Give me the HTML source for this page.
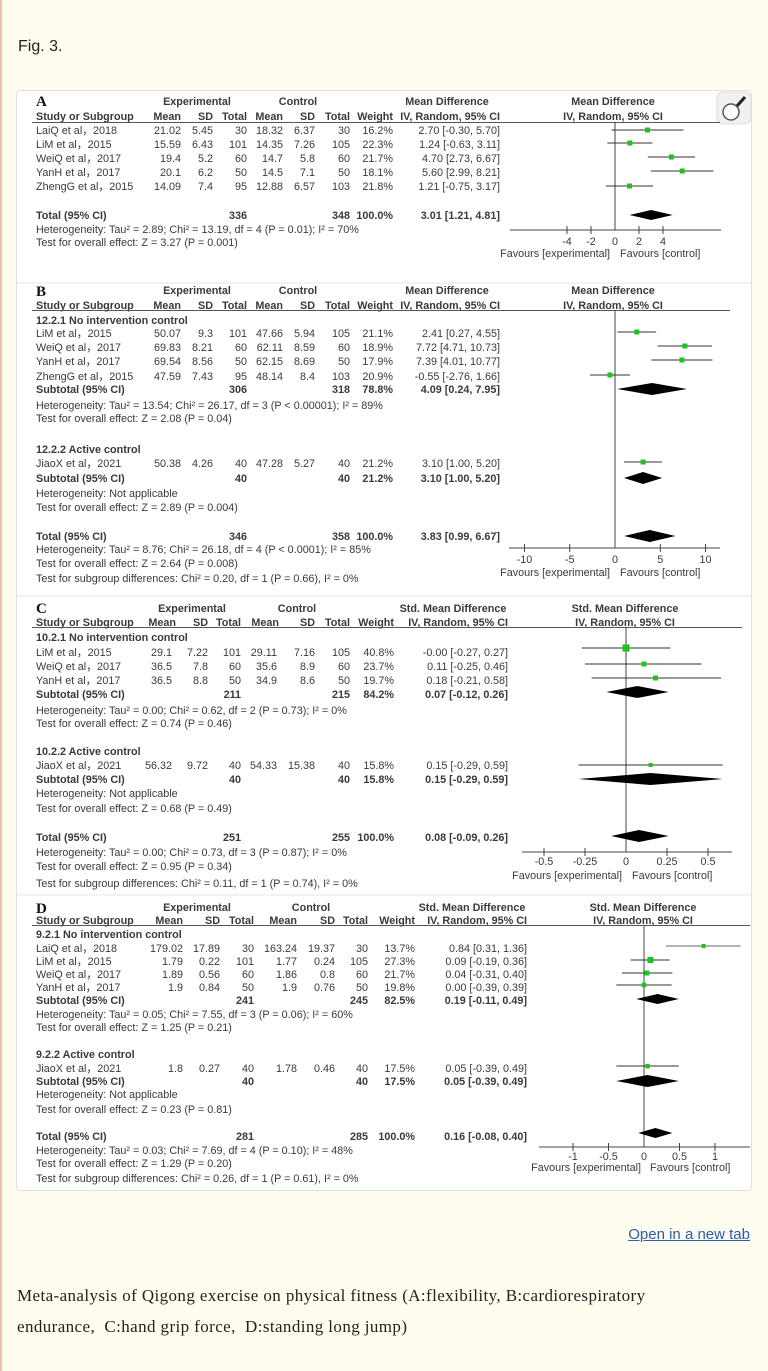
<!DOCTYPE html>
<html><head><meta charset="utf-8"><style>
body{margin:0;background:#fffdf0;width:768px;height:1371px;overflow:hidden;position:relative;font-family:"Liberation Sans",sans-serif}
.strip{position:absolute;left:0;top:0;width:2px;height:1371px;background:#efc1a8}
.fig{position:absolute;left:18px;top:38px;font-size:16px;color:#222}
.open{position:absolute;right:18px;top:1226px;font-size:15px;color:#2a5db0;text-decoration:underline}
.cap{position:absolute;left:17px;top:1280px;width:740px;white-space:nowrap;font-family:"Liberation Serif",serif;font-size:17px;letter-spacing:0.4px;line-height:31px;color:#222}
svg{position:absolute;left:0;top:0}
text{font-family:"Liberation Sans",sans-serif;font-size:10.8px;fill:#3a3a3a}
.b{font-weight:bold}
.e{text-anchor:end}
.m{text-anchor:middle}
.L{font-family:"Liberation Serif",serif;font-size:15px;font-weight:bold;fill:#111}
.sq{fill:#1ec31e}
.ci{stroke:#333;stroke-width:1}
.ax{stroke:#444;stroke-width:1;fill:none}
</style></head><body>
<div class="strip"></div>
<div class="fig">Fig. 3.</div>
<svg width="768" height="1371" xmlns="http://www.w3.org/2000/svg">
<rect x="16.5" y="90.5" width="735" height="1100" rx="4" fill="#fff" stroke="#e2e0d8"/>
<line x1="17" y1="283" x2="751" y2="283" stroke="#e6e6e6"/>
<line x1="17" y1="596" x2="751" y2="596" stroke="#e6e6e6"/>
<line x1="17" y1="895" x2="751" y2="895" stroke="#e6e6e6"/>
<rect x="717" y="92" width="34" height="32" rx="6" fill="#f1f1f1" stroke="#ddd"/>
<circle cx="731" cy="112" r="8" fill="#fff" stroke="#555" stroke-width="1.5"/>
<line x1="737" y1="106" x2="745" y2="97" stroke="#222" stroke-width="3"/>

<!-- ===== A ===== -->
<text x="36" y="106" class="L">A</text>
<text x="197" y="105" class="b m">Experimental</text>
<text x="298" y="105" class="b m">Control</text>
<text x="447" y="105" class="b m">Mean Difference</text>
<text x="613" y="105" class="b m">Mean Difference</text>
<g class="b"><text x="36" y="120">Study or Subgroup</text><text x="181" y="120" class="e">Mean</text><text x="213" y="120" class="e">SD</text><text x="247" y="120" class="e">Total</text><text x="283" y="120" class="e">Mean</text><text x="315" y="120" class="e">SD</text><text x="350" y="120" class="e">Total</text><text x="393" y="120" class="e">Weight</text><text x="500" y="120" class="e">IV, Random, 95% CI</text><text x="613" y="120" class="m">IV, Random, 95% CI</text></g>
<line x1="32" y1="122.5" x2="720" y2="122.5" stroke="#555"/>
<g>
<text x="36" y="134">LaiQ et al，2018</text><text x="181" y="134" class="e">21.02</text><text x="213" y="134" class="e">5.45</text><text x="247" y="134" class="e">30</text><text x="283" y="134" class="e">18.32</text><text x="315" y="134" class="e">6.37</text><text x="350" y="134" class="e">30</text><text x="393" y="134" class="e">16.2%</text><text x="500" y="134" class="e">2.70 [-0.30, 5.70]</text>
<text x="36" y="148">LiM et al，2015</text><text x="181" y="148" class="e">15.59</text><text x="213" y="148" class="e">6.43</text><text x="247" y="148" class="e">101</text><text x="283" y="148" class="e">14.35</text><text x="315" y="148" class="e">7.26</text><text x="350" y="148" class="e">105</text><text x="393" y="148" class="e">22.3%</text><text x="500" y="148" class="e">1.24 [-0.63, 3.11]</text>
<text x="36" y="162">WeiQ et al，2017</text><text x="181" y="162" class="e">19.4</text><text x="213" y="162" class="e">5.2</text><text x="247" y="162" class="e">60</text><text x="283" y="162" class="e">14.7</text><text x="315" y="162" class="e">5.8</text><text x="350" y="162" class="e">60</text><text x="393" y="162" class="e">21.7%</text><text x="500" y="162" class="e">4.70 [2.73, 6.67]</text>
<text x="36" y="176">YanH et al，2017</text><text x="181" y="176" class="e">20.1</text><text x="213" y="176" class="e">6.2</text><text x="247" y="176" class="e">50</text><text x="283" y="176" class="e">14.5</text><text x="315" y="176" class="e">7.1</text><text x="350" y="176" class="e">50</text><text x="393" y="176" class="e">18.1%</text><text x="500" y="176" class="e">5.60 [2.99, 8.21]</text>
<text x="36" y="190">ZhengG et al，2015</text><text x="181" y="190" class="e">14.09</text><text x="213" y="190" class="e">7.4</text><text x="247" y="190" class="e">95</text><text x="283" y="190" class="e">12.88</text><text x="315" y="190" class="e">6.57</text><text x="350" y="190" class="e">103</text><text x="393" y="190" class="e">21.8%</text><text x="500" y="190" class="e">1.21 [-0.75, 3.17]</text>
</g>
<g class="b"><text x="36" y="219">Total (95% CI)</text><text x="247" y="219" class="e">336</text><text x="350" y="219" class="e">348</text><text x="393" y="219" class="e">100.0%</text><text x="500" y="219" class="e">3.01 [1.21, 4.81]</text></g>
<text x="36" y="233">Heterogeneity: Tau² = 2.89; Chi² = 13.19, df = 4 (P = 0.01); I² = 70%</text>
<text x="36" y="246">Test for overall effect: Z = 3.27 (P = 0.001)</text>
<line x1="615" y1="122" x2="615" y2="230" class="ax"/>
<line x1="510" y1="230" x2="721" y2="230" class="ax"/>
<g class="ax"><line x1="567" y1="226" x2="567" y2="234"/><line x1="591" y1="226" x2="591" y2="234"/><line x1="639" y1="226" x2="639" y2="234"/><line x1="663" y1="226" x2="663" y2="234"/></g>
<text x="567" y="245" class="m">-4</text><text x="591" y="245" class="m">-2</text><text x="615" y="245" class="m">0</text><text x="639" y="245" class="m">2</text><text x="663" y="245" class="m">4</text>
<text x="610" y="257" class="e">Favours [experimental]</text><text x="620" y="257">Favours [control]</text>
<g class="ci"><line x1="611.4" y1="130" x2="683.4" y2="130"/><line x1="607.4" y1="143" x2="652.3" y2="143"/><line x1="647.8" y1="157" x2="695" y2="157"/><line x1="650.9" y1="171" x2="713.5" y2="171"/><line x1="606" y1="186" x2="653" y2="186"/></g>
<rect x="645" y="127.5" width="5" height="5" class="sq"/><rect x="627.4" y="140.5" width="5" height="5" class="sq"/><rect x="668.9" y="154.5" width="5" height="5" class="sq"/><rect x="679.7" y="168.5" width="5" height="5" class="sq"/><rect x="627" y="183.5" width="5" height="5" class="sq"/>
<polygon points="629.5,215 651.1,210 672.7,215 651.1,220" fill="#000"/>

<!-- ===== B ===== -->
<text x="36" y="296" class="L">B</text>
<text x="197" y="294" class="b m">Experimental</text>
<text x="298" y="294" class="b m">Control</text>
<text x="447" y="294" class="b m">Mean Difference</text>
<text x="613" y="294" class="b m">Mean Difference</text>
<g class="b"><text x="36" y="309">Study or Subgroup</text><text x="181" y="309" class="e">Mean</text><text x="213" y="309" class="e">SD</text><text x="247" y="309" class="e">Total</text><text x="283" y="309" class="e">Mean</text><text x="315" y="309" class="e">SD</text><text x="350" y="309" class="e">Total</text><text x="393" y="309" class="e">Weight</text><text x="500" y="309" class="e">IV, Random, 95% CI</text><text x="613" y="309" class="m">IV, Random, 95% CI</text></g>
<line x1="32" y1="310.5" x2="730" y2="310.5" stroke="#555"/>
<text x="36" y="324" class="b">12.2.1 No intervention control</text>
<text x="36" y="337">LiM et al，2015</text><text x="181" y="337" class="e">50.07</text><text x="213" y="337" class="e">9.3</text><text x="247" y="337" class="e">101</text><text x="283" y="337" class="e">47.66</text><text x="315" y="337" class="e">5.94</text><text x="350" y="337" class="e">105</text><text x="393" y="337" class="e">21.1%</text><text x="500" y="337" class="e">2.41 [0.27, 4.55]</text>
<text x="36" y="351">WeiQ et al，2017</text><text x="181" y="351" class="e">69.83</text><text x="213" y="351" class="e">8.21</text><text x="247" y="351" class="e">60</text><text x="283" y="351" class="e">62.11</text><text x="315" y="351" class="e">8.59</text><text x="350" y="351" class="e">60</text><text x="393" y="351" class="e">18.9%</text><text x="500" y="351" class="e">7.72 [4.71, 10.73]</text>
<text x="36" y="365">YanH et al，2017</text><text x="181" y="365" class="e">69.54</text><text x="213" y="365" class="e">8.56</text><text x="247" y="365" class="e">50</text><text x="283" y="365" class="e">62.15</text><text x="315" y="365" class="e">8.69</text><text x="350" y="365" class="e">50</text><text x="393" y="365" class="e">17.9%</text><text x="500" y="365" class="e">7.39 [4.01, 10.77]</text>
<text x="36" y="380">ZhengG et al，2015</text><text x="181" y="380" class="e">47.59</text><text x="213" y="380" class="e">7.43</text><text x="247" y="380" class="e">95</text><text x="283" y="380" class="e">48.14</text><text x="315" y="380" class="e">8.4</text><text x="350" y="380" class="e">103</text><text x="393" y="380" class="e">20.9%</text><text x="500" y="380" class="e">-0.55 [-2.76, 1.66]</text>
<g class="b"><text x="36" y="393">Subtotal (95% CI)</text><text x="247" y="393" class="e">306</text><text x="350" y="393" class="e">318</text><text x="393" y="393" class="e">78.8%</text><text x="500" y="393" class="e">4.09 [0.24, 7.95]</text></g>
<text x="36" y="409">Heterogeneity: Tau² = 13.54; Chi² = 26.17, df = 3 (P &lt; 0.00001); I² = 89%</text>
<text x="36" y="422">Test for overall effect: Z = 2.08 (P = 0.04)</text>
<text x="36" y="453" class="b">12.2.2 Active control</text>
<text x="36" y="467">JiaoX et al，2021</text><text x="181" y="467" class="e">50.38</text><text x="213" y="467" class="e">4.26</text><text x="247" y="467" class="e">40</text><text x="283" y="467" class="e">47.28</text><text x="315" y="467" class="e">5.27</text><text x="350" y="467" class="e">40</text><text x="393" y="467" class="e">21.2%</text><text x="500" y="467" class="e">3.10 [1.00, 5.20]</text>
<g class="b"><text x="36" y="482">Subtotal (95% CI)</text><text x="247" y="482" class="e">40</text><text x="350" y="482" class="e">40</text><text x="393" y="482" class="e">21.2%</text><text x="500" y="482" class="e">3.10 [1.00, 5.20]</text></g>
<text x="36" y="497">Heterogeneity: Not applicable</text>
<text x="36" y="511">Test for overall effect: Z = 2.89 (P = 0.004)</text>
<g class="b"><text x="36" y="540">Total (95% CI)</text><text x="247" y="540" class="e">346</text><text x="350" y="540" class="e">358</text><text x="393" y="540" class="e">100.0%</text><text x="500" y="540" class="e">3.83 [0.99, 6.67]</text></g>
<text x="36" y="553">Heterogeneity: Tau² = 8.76; Chi² = 26.18, df = 4 (P &lt; 0.0001); I² = 85%</text>
<text x="36" y="567">Test for overall effect: Z = 2.64 (P = 0.008)</text>
<text x="36" y="582">Test for subgroup differences: Chi² = 0.20, df = 1 (P = 0.66), I² = 0%</text>
<line x1="615" y1="310" x2="615" y2="548" class="ax"/>
<line x1="509" y1="548" x2="720" y2="548" class="ax"/>
<g class="ax"><line x1="524.5" y1="544" x2="524.5" y2="552"/><line x1="569.7" y1="544" x2="569.7" y2="552"/><line x1="660.3" y1="544" x2="660.3" y2="552"/><line x1="705.5" y1="544" x2="705.5" y2="552"/></g>
<text x="524.5" y="563" class="m">-10</text><text x="569.7" y="563" class="m">-5</text><text x="615" y="563" class="m">0</text><text x="660.3" y="563" class="m">5</text><text x="705.5" y="563" class="m">10</text>
<text x="610" y="576" class="e">Favours [experimental]</text><text x="620" y="576">Favours [control]</text>
<g class="ci"><line x1="617.4" y1="332" x2="656.2" y2="332"/><line x1="657.6" y1="346" x2="712.1" y2="346"/><line x1="651.3" y1="360" x2="712.5" y2="360"/><line x1="590" y1="375" x2="630" y2="375"/><line x1="624" y1="462" x2="662.1" y2="462"/></g>
<rect x="634.3" y="329.5" width="5" height="5" class="sq"/><rect x="682.4" y="343.5" width="5" height="5" class="sq"/><rect x="679.4" y="357.5" width="5" height="5" class="sq"/><rect x="607.5" y="372.5" width="5" height="5" class="sq"/><rect x="640.6" y="459.5" width="5" height="5" class="sq"/>
<polygon points="617.2,389 652,383 687,389 652,395" fill="#000"/>
<polygon points="624,478 643.1,472 662.1,478 643.1,484" fill="#000"/>
<polygon points="624,536 649.7,530 675.4,536 649.7,542" fill="#000"/>

<!-- ===== C ===== -->
<text x="36" y="613" class="L">C</text>
<text x="192" y="612" class="b m">Experimental</text>
<text x="297" y="612" class="b m">Control</text>
<text x="453" y="612" class="b m">Std. Mean Difference</text>
<text x="625" y="612" class="b m">Std. Mean Difference</text>
<g class="b"><text x="36" y="626">Study or Subgroup</text><text x="176" y="626" class="e">Mean</text><text x="208" y="626" class="e">SD</text><text x="241" y="626" class="e">Total</text><text x="279" y="626" class="e">Mean</text><text x="315" y="626" class="e">SD</text><text x="350" y="626" class="e">Total</text><text x="394" y="626" class="e">Weight</text><text x="508" y="626" class="e">IV, Random, 95% CI</text><text x="625" y="626" class="m">IV, Random, 95% CI</text></g>
<line x1="32" y1="627.5" x2="742" y2="627.5" stroke="#555"/>
<text x="36" y="641" class="b">10.2.1 No intervention control</text>
<text x="36" y="656">LiM et al，2015</text><text x="172" y="656" class="e">29.1</text><text x="208" y="656" class="e">7.22</text><text x="241" y="656" class="e">101</text><text x="277" y="656" class="e">29.11</text><text x="315" y="656" class="e">7.16</text><text x="350" y="656" class="e">105</text><text x="394" y="656" class="e">40.8%</text><text x="508" y="656" class="e">-0.00 [-0.27, 0.27]</text>
<text x="36" y="670">WeiQ et al，2017</text><text x="172" y="670" class="e">36.5</text><text x="208" y="670" class="e">7.8</text><text x="241" y="670" class="e">60</text><text x="277" y="670" class="e">35.6</text><text x="315" y="670" class="e">8.9</text><text x="350" y="670" class="e">60</text><text x="394" y="670" class="e">23.7%</text><text x="508" y="670" class="e">0.11 [-0.25, 0.46]</text>
<text x="36" y="684">YanH et al，2017</text><text x="172" y="684" class="e">36.5</text><text x="208" y="684" class="e">8.8</text><text x="241" y="684" class="e">50</text><text x="277" y="684" class="e">34.9</text><text x="315" y="684" class="e">8.6</text><text x="350" y="684" class="e">50</text><text x="394" y="684" class="e">19.7%</text><text x="508" y="684" class="e">0.18 [-0.21, 0.58]</text>
<g class="b"><text x="36" y="698">Subtotal (95% CI)</text><text x="241" y="698" class="e">211</text><text x="350" y="698" class="e">215</text><text x="394" y="698" class="e">84.2%</text><text x="508" y="698" class="e">0.07 [-0.12, 0.26]</text></g>
<text x="36" y="714">Heterogeneity: Tau² = 0.00; Chi² = 0.62, df = 2 (P = 0.73); I² = 0%</text>
<text x="36" y="727">Test for overall effect: Z = 0.74 (P = 0.46)</text>
<text x="36" y="755" class="b">10.2.2 Active control</text>
<text x="36" y="769">JiaoX et al，2021</text><text x="172" y="769" class="e">56.32</text><text x="208" y="769" class="e">9.72</text><text x="241" y="769" class="e">40</text><text x="277" y="769" class="e">54.33</text><text x="315" y="769" class="e">15.38</text><text x="350" y="769" class="e">40</text><text x="394" y="769" class="e">15.8%</text><text x="508" y="769" class="e">0.15 [-0.29, 0.59]</text>
<g class="b"><text x="36" y="783">Subtotal (95% CI)</text><text x="241" y="783" class="e">40</text><text x="350" y="783" class="e">40</text><text x="394" y="783" class="e">15.8%</text><text x="508" y="783" class="e">0.15 [-0.29, 0.59]</text></g>
<text x="36" y="797">Heterogeneity: Not applicable</text>
<text x="36" y="812">Test for overall effect: Z = 0.68 (P = 0.49)</text>
<g class="b"><text x="36" y="841">Total (95% CI)</text><text x="241" y="841" class="e">251</text><text x="350" y="841" class="e">255</text><text x="394" y="841" class="e">100.0%</text><text x="508" y="841" class="e">0.08 [-0.09, 0.26]</text></g>
<text x="36" y="856">Heterogeneity: Tau² = 0.00; Chi² = 0.73, df = 3 (P = 0.87); I² = 0%</text>
<text x="36" y="870">Test for overall effect: Z = 0.95 (P = 0.34)</text>
<text x="36" y="887">Test for subgroup differences: Chi² = 0.11, df = 1 (P = 0.74), I² = 0%</text>
<line x1="626" y1="627" x2="626" y2="852" class="ax"/>
<line x1="522" y1="852" x2="732" y2="852" class="ax"/>
<g class="ax"><line x1="544" y1="848" x2="544" y2="856"/><line x1="585" y1="848" x2="585" y2="856"/><line x1="667" y1="848" x2="667" y2="856"/><line x1="708" y1="848" x2="708" y2="856"/></g>
<text x="544" y="865" class="m">-0.5</text><text x="585" y="865" class="m">-0.25</text><text x="626" y="865" class="m">0</text><text x="667" y="865" class="m">0.25</text><text x="708" y="865" class="m">0.5</text>
<text x="622" y="879" class="e">Favours [experimental]</text><text x="632" y="879">Favours [control]</text>
<g class="ci"><line x1="581.7" y1="648" x2="670.3" y2="648"/><line x1="585" y1="664" x2="701.4" y2="664"/><line x1="591.6" y1="678" x2="721.1" y2="678"/><line x1="578.4" y1="765" x2="722.8" y2="765"/></g>
<rect x="622.5" y="644.5" width="7" height="7" class="sq"/><rect x="641.5" y="661.5" width="5" height="5" class="sq"/><rect x="653" y="675.5" width="5" height="5" class="sq"/><rect x="648.6" y="763" width="4" height="4" class="sq"/>
<polygon points="606.3,692 637.5,686 668.6,692 637.5,698" fill="#000"/>
<polygon points="578.4,779 650.6,773 722.8,779 650.6,785" fill="#000"/>
<polygon points="611.2,836 639.1,830 668.6,836 639.1,842" fill="#000"/>

<!-- ===== D ===== -->
<text x="36" y="913" class="L">D</text>
<text x="197" y="911" class="b m">Experimental</text>
<text x="311" y="911" class="b m">Control</text>
<text x="472" y="911" class="b m">Std. Mean Difference</text>
<text x="643" y="911" class="b m">Std. Mean Difference</text>
<g class="b"><text x="36" y="924">Study or Subgroup</text><text x="183" y="924" class="e">Mean</text><text x="220" y="924" class="e">SD</text><text x="254" y="924" class="e">Total</text><text x="297" y="924" class="e">Mean</text><text x="335" y="924" class="e">SD</text><text x="368" y="924" class="e">Total</text><text x="415" y="924" class="e">Weight</text><text x="527" y="924" class="e">IV, Random, 95% CI</text><text x="643" y="924" class="m">IV, Random, 95% CI</text></g>
<line x1="32" y1="925.5" x2="750" y2="925.5" stroke="#555"/>
<text x="36" y="938" class="b">9.2.1 No intervention control</text>
<text x="36" y="952">LaiQ et al，2018</text><text x="183" y="952" class="e">179.02</text><text x="220" y="952" class="e">17.89</text><text x="254" y="952" class="e">30</text><text x="297" y="952" class="e">163.24</text><text x="335" y="952" class="e">19.37</text><text x="368" y="952" class="e">30</text><text x="415" y="952" class="e">13.7%</text><text x="527" y="952" class="e">0.84 [0.31, 1.36]</text>
<text x="36" y="965">LiM et al，2015</text><text x="183" y="965" class="e">1.79</text><text x="220" y="965" class="e">0.22</text><text x="254" y="965" class="e">101</text><text x="297" y="965" class="e">1.77</text><text x="335" y="965" class="e">0.24</text><text x="368" y="965" class="e">105</text><text x="415" y="965" class="e">27.3%</text><text x="527" y="965" class="e">0.09 [-0.19, 0.36]</text>
<text x="36" y="978">WeiQ et al，2017</text><text x="183" y="978" class="e">1.89</text><text x="220" y="978" class="e">0.56</text><text x="254" y="978" class="e">60</text><text x="297" y="978" class="e">1.86</text><text x="335" y="978" class="e">0.8</text><text x="368" y="978" class="e">60</text><text x="415" y="978" class="e">21.7%</text><text x="527" y="978" class="e">0.04 [-0.31, 0.40]</text>
<text x="36" y="991">YanH et al，2017</text><text x="183" y="991" class="e">1.9</text><text x="220" y="991" class="e">0.84</text><text x="254" y="991" class="e">50</text><text x="297" y="991" class="e">1.9</text><text x="335" y="991" class="e">0.76</text><text x="368" y="991" class="e">50</text><text x="415" y="991" class="e">19.8%</text><text x="527" y="991" class="e">0.00 [-0.39, 0.39]</text>
<g class="b"><text x="36" y="1004">Subtotal (95% CI)</text><text x="254" y="1004" class="e">241</text><text x="368" y="1004" class="e">245</text><text x="415" y="1004" class="e">82.5%</text><text x="527" y="1004" class="e">0.19 [-0.11, 0.49]</text></g>
<text x="36" y="1018">Heterogeneity: Tau² = 0.05; Chi² = 7.55, df = 3 (P = 0.06); I² = 60%</text>
<text x="36" y="1031">Test for overall effect: Z = 1.25 (P = 0.21)</text>
<text x="36" y="1058" class="b">9.2.2 Active control</text>
<text x="36" y="1072">JiaoX et al，2021</text><text x="183" y="1072" class="e">1.8</text><text x="220" y="1072" class="e">0.27</text><text x="254" y="1072" class="e">40</text><text x="297" y="1072" class="e">1.78</text><text x="335" y="1072" class="e">0.46</text><text x="368" y="1072" class="e">40</text><text x="415" y="1072" class="e">17.5%</text><text x="527" y="1072" class="e">0.05 [-0.39, 0.49]</text>
<g class="b"><text x="36" y="1085">Subtotal (95% CI)</text><text x="254" y="1085" class="e">40</text><text x="368" y="1085" class="e">40</text><text x="415" y="1085" class="e">17.5%</text><text x="527" y="1085" class="e">0.05 [-0.39, 0.49]</text></g>
<text x="36" y="1098">Heterogeneity: Not applicable</text>
<text x="36" y="1113">Test for overall effect: Z = 0.23 (P = 0.81)</text>
<g class="b"><text x="36" y="1140">Total (95% CI)</text><text x="254" y="1140" class="e">281</text><text x="368" y="1140" class="e">285</text><text x="415" y="1140" class="e">100.0%</text><text x="527" y="1140" class="e">0.16 [-0.08, 0.40]</text></g>
<text x="36" y="1154">Heterogeneity: Tau² = 0.03; Chi² = 7.69, df = 4 (P = 0.10); I² = 48%</text>
<text x="36" y="1167">Test for overall effect: Z = 1.29 (P = 0.20)</text>
<text x="36" y="1182">Test for subgroup differences: Chi² = 0.26, df = 1 (P = 0.61), I² = 0%</text>
<line x1="644" y1="925" x2="644" y2="1147" class="ax"/>
<line x1="539" y1="1147" x2="750" y2="1147" class="ax"/>
<g class="ax"><line x1="573" y1="1143" x2="573" y2="1151"/><line x1="608.5" y1="1143" x2="608.5" y2="1151"/><line x1="679.5" y1="1143" x2="679.5" y2="1151"/><line x1="715" y1="1143" x2="715" y2="1151"/></g>
<text x="573" y="1160" class="m">-1</text><text x="608.5" y="1160" class="m">-0.5</text><text x="644" y="1160" class="m">0</text><text x="679.5" y="1160" class="m">0.5</text><text x="715" y="1160" class="m">1</text>
<text x="641" y="1171" class="e">Favours [experimental]</text><text x="650" y="1171">Favours [control]</text>
<g class="ci"><line x1="666" y1="946" x2="740.6" y2="946" stroke="#666"/><line x1="630.5" y1="960" x2="669.6" y2="960"/><line x1="622" y1="973" x2="672.4" y2="973"/><line x1="616.3" y1="985" x2="671.7" y2="985"/><line x1="616.3" y1="1066" x2="678.8" y2="1066"/></g>
<rect x="701.6" y="944" width="4" height="4" class="sq"/><rect x="647.4" y="957" width="6" height="6" class="sq"/><rect x="644.3" y="970.5" width="5" height="5" class="sq"/><rect x="641.7" y="982.7" width="4.6" height="4.6" class="sq"/><rect x="645.4" y="1064" width="4.4" height="4.4" class="sq"/>
<polygon points="636.2,999 657.5,994 678.8,999 657.5,1004" fill="#000"/>
<polygon points="616.3,1081 647.6,1075 678.8,1081 647.6,1087" fill="#000"/>
<polygon points="638.3,1133 655.4,1128 672.4,1133 655.4,1138" fill="#000"/>
</svg>
<div class="open">Open in a new tab</div>
<div class="cap">Meta-analysis of Qigong exercise on physical fitness (A:flexibility, B:cardiorespiratory<br>endurance,&nbsp; C:hand grip force,&nbsp; D:standing long jump)</div>
</body></html>
